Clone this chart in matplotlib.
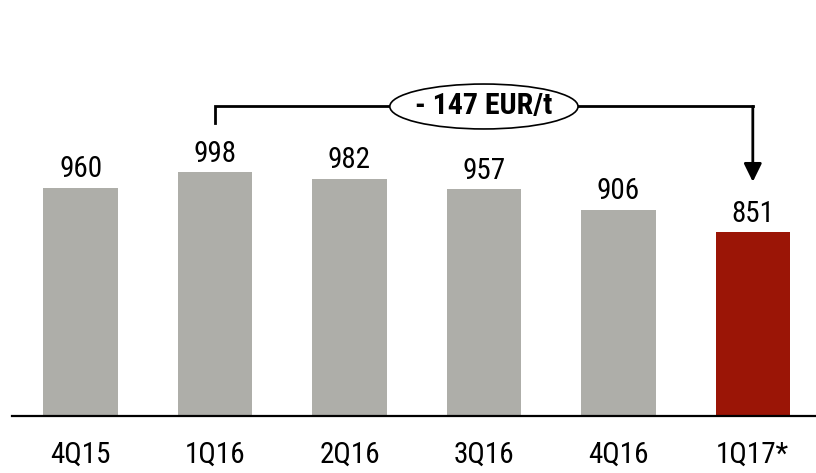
import matplotlib
matplotlib.use("Agg")
import matplotlib.pyplot as plt
from matplotlib.patches import Ellipse
from matplotlib import transforms

plt.rcParams['font.family'] = ['Roboto Condensed', 'DejaVu Sans']

quarters = ["4Q15", "1Q16", "2Q16", "3Q16", "4Q16", "1Q17*"]
values = [960, 998, 982, 957, 906, 851]
delta_label = "- 147 EUR/t"

grey = "#AEAEA9"
red = "#9B1506"
colors = [grey] * (len(values) - 1) + [red]

fig = plt.figure(figsize=(8.16, 4.73), dpi=100)
ax = fig.add_axes([12 / 816, 57 / 473, 804 / 816, 416 / 473])

x = list(range(len(values)))
ax.bar(x, values, width=0.555, color=colors, zorder=2)

ax.set_xlim(-0.51, 5.47)
ax.set_ylim(400, 1420)

for xi, v in zip(x, values):
    ax.annotate(f"{v}", (xi, v), xytext=(0, 3), textcoords="offset points",
                ha="center", va="bottom", fontsize=21)

ax.set_xticks(x)
ax.set_xticklabels(quarters, fontsize=21)
ax.tick_params(axis="x", length=0, pad=18)
ax.set_yticks([])
for s in ("top", "right", "left"):
    ax.spines[s].set_visible(False)
ax.spines["bottom"].set_linewidth(1.6)
ax.spines["bottom"].set_zorder(3)

# bracket with the change between 1Q16 and 1Q17
trans = transforms.blended_transform_factory(ax.transData, ax.transAxes)
y_line = 0.744
ell_w = 1.40
mid = (x[1] + x[5]) / 2
ax.plot([x[1], x[1], mid - ell_w / 2], [0.705, y_line, y_line],
        color="black", lw=2, transform=trans, solid_joinstyle="miter", zorder=4)
ax.plot([mid + ell_w / 2, x[5]], [y_line, y_line],
        color="black", lw=2, transform=trans, solid_capstyle="projecting", zorder=4)
ax.annotate("", xy=(x[5], 0.563), xytext=(x[5], y_line),
            xycoords=trans, textcoords=trans,
            arrowprops=dict(arrowstyle="-|>,head_length=11,head_width=5.4",
                            mutation_scale=1, color="black", lw=2,
                            shrinkA=0, shrinkB=0), zorder=4)
ax.add_patch(Ellipse((mid, y_line), ell_w, 0.108, transform=trans,
                     facecolor="white", edgecolor="black", lw=1.2, zorder=5))
ax.text(mid, y_line, delta_label, transform=trans, ha="center", va="center",
        fontsize=21.5, fontweight="bold", zorder=6)

fig.savefig("out.png", dpi=100)
